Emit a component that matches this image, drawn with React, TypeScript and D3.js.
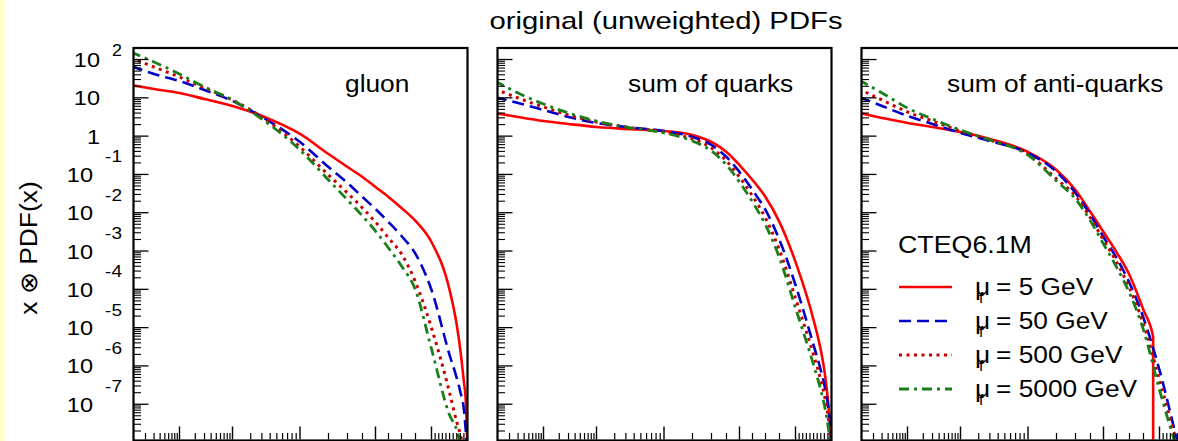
import React from 'react';
import * as d3 from 'd3';

// ---------- data ----------
const SCALES = ['5 GeV', '50 GeV', '500 GeV', '5000 GeV'];
const PANEL_TITLES = ['gluon', 'sum of quarks', 'sum of anti-quarks'];

// x grid (momentum fraction) on which values were read
const X_GRID = [1e-4, 3e-4, 1e-3, 3e-3, 1e-2, 0.03, 0.1, 0.2, 0.3, 0.4, 0.5, 0.6, 0.7, 0.8, 0.9, 0.95, 0.97, 0.98, 0.99, 0.995, 0.999];

// gluon
const G_5 = [21.6, 17.0, 13.4, 9.3, 6.1, 3.36, 1.14, 0.341, 0.156, 0.0857, 0.047, 0.0258, 0.0133, 6.1e-3, 1.72e-3, 9.6e-5, 1.17e-5, 2.6e-6, 3.8e-7, 1.3e-7, 1.2e-8];
const G_50 = [67.8, 41.9, 27.5, 16.0, 8.26, 3.16, 0.703, 0.156, 0.0597, 0.0258, 0.0125, 5.7e-3, 2.47e-3, 8.4e-4, 9.6e-5, 1.93e-6, 4.8e-7, 2.1e-7, 7.1e-8, 2.1e-8, 4.7e-9];
const G_500 = [110, 63.8, 35.0, 18.1, 8.77, 3.16, 0.52, 0.0966, 0.0327, 0.0133, 5.7e-3, 2.19e-3, 8.4e-4, 1.55e-4, 9.8e-6, 2.0e-7, 3.4e-8, 1.6e-8, 4.7e-9, 1e-9, 1e-10];
const G_5000 = [157, 86.3, 41.9, 19.2, 8.77, 2.80, 0.435, 0.0716, 0.0215, 8.2e-3, 3.33e-3, 1.2e-3, 4.06e-4, 9.6e-5, 2.77e-6, 5.2e-8, 2.1e-8, 8.7e-9, 1e-9, 1e-10, 1e-11];

// sum of quarks
const Q_5 = [4.02, 3.16, 2.48, 2.07, 1.73, 1.53, 1.36, 1.07, 0.703, 0.385, 0.176, 0.0716, 0.0258, 5.7e-3, 5.2e-4, 1.58e-5, 2.6e-6, 7.8e-7, 1.29e-7, 3.9e-8, 8.7e-9];
const Q_50 = [10.5, 7.33, 4.81, 3.16, 2.20, 1.73, 1.36, 0.948, 0.586, 0.285, 0.116, 0.0392, 0.0118, 1.94e-3, 1.30e-4, 3.5e-6, 7.8e-7, 3.2e-7, 9.5e-8, 3.9e-8, 1.16e-8];
const Q_500 = [17.0, 9.91, 5.77, 3.56, 2.34, 1.73, 1.28, 0.841, 0.49, 0.224, 0.0857, 0.0273, 7.3e-3, 1.06e-3, 5.9e-5, 1.93e-6, 4.3e-7, 1.74e-7, 5.2e-8, 2.1e-8, 6.5e-9];
const Q_5000 = [27.5, 13.4, 6.90, 4.02, 2.48, 1.73, 1.21, 0.746, 0.409, 0.176, 0.0634, 0.0191, 4.79e-3, 6.6e-4, 3.25e-5, 1.06e-6, 2.35e-7, 9.5e-8, 2.87e-8, 1.16e-8, 3e-9];

// sum of anti-quarks (5 GeV set ends at x ~ 0.86)
const A_5 = [4.02, 2.98, 2.20, 1.73, 1.28, 0.841, 0.385, 0.131, 0.0392, 0.0104, 3.14e-3, 9.4e-4, 2.37e-4, 2.88e-5];
const A_5_END_X = [0.86, 0.8601];
const A_5_END_V = [5.7e-6, 1e-14];
const A_50 = [10.5, 6.12, 3.36, 2.07, 1.21, 0.746, 0.363, 0.116, 0.0327, 8.7e-3, 2.32e-3, 6.6e-4, 1.46e-4, 1.78e-5, 7.8e-7, 1.03e-8, 2e-9, 1e-9, 1e-10, 1e-11, 1e-12];
const A_500 = [17.0, 8.77, 4.27, 2.48, 1.36, 0.792, 0.342, 0.076, 0.0273, 7.3e-3, 1.94e-3, 5.2e-4, 1.08e-4, 1.24e-5, 4.3e-7, 8.7e-9, 2e-9, 1e-9, 1e-10, 1e-11, 1e-12];
const A_5000 = [29.2, 13.4, 5.43, 2.80, 1.45, 0.792, 0.321, 0.0675, 0.0228, 6.1e-3, 1.53e-3, 3.83e-4, 8.0e-5, 8.7e-6, 2.35e-7, 6.5e-9, 2e-9, 1e-9, 1e-10, 1e-11, 1e-12];

// axis ticks
const Y_DOMAIN = [1.2e-8, 200];
const Y_MAJOR_EXP = [2, 1, 0, -1, -2, -3, -4, -5, -6, -7];
const X_MAJOR = [1e-3, 1e-2, 0.1, 0.5, 0.9];
const X_MINOR_LIN = [0.2, 0.3, 0.4, 0.6, 0.7, 0.8];
const X_MINOR_HIGH = [0.91, 0.92, 0.93, 0.94, 0.95, 0.96, 0.97, 0.98, 0.99];
// x-axis knots of the (APPLgrid-like) transformed axis
const X_KNOTS = [1e-4, 1e-3, 1e-2, 0.1, 0.2, 0.3, 0.4, 0.5, 0.6, 0.7, 0.8, 0.9, 1];

// ---------- layout / style ----------
const W = 1178, H = 441;
const PANEL_LEFT = [133.5, 497.5, 861.5];
const PANEL_W = 334;
const TOP = 48, BOTTOM = 439.5;
const X_KNOT_PX = [-2.6, 46, 99, 166.5, 195, 214, 229, 242, 255, 268, 282, 298, 334];
const FONT = "'Liberation Sans', Arial, Helvetica, sans-serif";
const STYLES = [
  { color: '#ff0000', dash: null, width: 2.6 },
  { color: '#0000c8', dash: '12,6', width: 2.6 },
  { color: '#c80000', dash: '3,4.5', width: 3 },
  { color: '#1a7f1a', dash: '10,5,3,5', width: 2.8 },
];

const appl = (x: number) => Math.log(1 / x) + 5 * (1 - x);
const xs = d3.scaleLinear().domain(X_KNOTS.map((k) => appl(k))).range(X_KNOT_PX);
const xPos = (x: number) => xs(appl(x));
const ys = d3.scaleLog().domain(Y_DOMAIN).range([BOTTOM, TOP]);

type Pt = [number, number];
const zip = (xsArr: number[], vs: number[]): Pt[] => vs.map((v, i) => [xsArr[i], v] as Pt);

const PANELS: Pt[][][] = [
  [zip(X_GRID, G_5), zip(X_GRID, G_50), zip(X_GRID, G_500), zip(X_GRID, G_5000)],
  [zip(X_GRID, Q_5), zip(X_GRID, Q_50), zip(X_GRID, Q_500), zip(X_GRID, Q_5000)],
  [
    [...zip(X_GRID, A_5), ...zip(A_5_END_X, A_5_END_V)],
    zip(X_GRID, A_50), zip(X_GRID, A_500), zip(X_GRID, A_5000),
  ],
];

const T = ({ x, y, size, anchor = 'start', sx = 1.12, rot = 0, children }: any) => (
  <text
    transform={`translate(${x},${y}) rotate(${rot}) scale(${sx},1)`}
    fontSize={size}
    textAnchor={anchor}
    fontFamily={FONT}
    fill="#000"
  >
    {children}
  </text>
);

function yMinorTicks(): number[] {
  const out: number[] = [];
  for (let e = -9; e <= 2; e++) {
    for (let m = 2; m <= 9; m++) {
      const v = m * Math.pow(10, e);
      if (v >= Y_DOMAIN[0] && v <= Y_DOMAIN[1]) out.push(v);
    }
  }
  return out;
}

function xMinorTicks(): number[] {
  const out: number[] = [];
  for (const e of [-4, -3, -2]) for (let m = 2; m <= 9; m++) out.push(m * Math.pow(10, e));
  return [...out, ...X_MINOR_LIN, ...X_MINOR_HIGH];
}

const Panel = ({ idx }: { idx: number }) => {
  const left = PANEL_LEFT[idx];
  const line = d3
    .line<Pt>()
    .x((d) => left + xPos(d[0]))
    .y((d) => ys(Math.max(d[1], 1e-12)))
    .curve(d3.curveMonotoneX);
  const yMinor = yMinorTicks();
  const xMinor = xMinorTicks();
  return (
    <g>
      <defs>
        <clipPath id={`clip${idx}`}>
          <rect x={left} y={TOP} width={PANEL_W} height={BOTTOM - TOP} />
        </clipPath>
      </defs>
      <g clipPath={`url(#clip${idx})`}>
        {PANELS[idx].map((s, i) => (
          <path
            key={i}
            d={line(s) || ''}
            fill="none"
            stroke={STYLES[i].color}
            strokeWidth={STYLES[i].width}
            strokeDasharray={STYLES[i].dash || undefined}
          />
        ))}
      </g>
      {Y_MAJOR_EXP.map((e) => (
        <line key={'ym' + e} x1={left} x2={left + 15} y1={ys(Math.pow(10, e))} y2={ys(Math.pow(10, e))} stroke="#000" strokeWidth={1.3} />
      ))}
      {yMinor.map((v, i) => (
        <line key={'yn' + i} x1={left} x2={left + 7.5} y1={ys(v)} y2={ys(v)} stroke="#000" strokeWidth={1.1} />
      ))}
      {X_MAJOR.map((v, i) => (
        <line key={'xm' + i} x1={left + xPos(v)} x2={left + xPos(v)} y1={BOTTOM} y2={BOTTOM - 13} stroke="#000" strokeWidth={1.4} />
      ))}
      {xMinor.map((v, i) => {
        const px = xPos(v);
        if (px <= 0 || px >= PANEL_W) return null;
        return <line key={'xn' + i} x1={left + px} x2={left + px} y1={BOTTOM} y2={BOTTOM - 6.5} stroke="#000" strokeWidth={1.2} />;
      })}
      <rect x={left} y={TOP} width={PANEL_W} height={BOTTOM - TOP + 1} fill="none" stroke="#000" strokeWidth={2.2} />
    </g>
  );
};

const LABEL_POS = [
  { x: 345, y: 92 },
  { x: 628, y: 92 },
  { x: 947, y: 92 },
];

export default function App() {
  return (
    <div style={{ position: 'fixed', left: 0, top: 0, width: W, height: H, background: '#fff' }}>
      <svg width={W} height={H} style={{ display: 'block' }}>
        <rect x={0} y={0} width={W} height={H} fill="#ffffff" />
        <rect x={0} y={0} width={5} height={H} fill="#ffffcc" />
        {[0, 1, 2].map((i) => (
          <Panel key={i} idx={i} />
        ))}
        {Y_MAJOR_EXP.map((e) => {
          const y = ys(Math.pow(10, e));
          if (e === 1) return <T key={e} x={100} y={y + 7.5} size={21} anchor="end">10</T>;
          if (e === 0) return <T key={e} x={100} y={y + 7.5} size={21} anchor="end">1</T>;
          if (e > 0)
            return (
              <g key={e}>
                <T x={100} y={y + 7.5} size={21} anchor="end">10</T>
                <T x={122} y={y - 4} size={16} anchor="end">{String(e)}</T>
              </g>
            );
          return (
            <g key={e}>
              <T x={93} y={y + 7.5} size={21} anchor="end">10</T>
              <T x={122} y={y - 12} size={17} anchor="end">{'-' + Math.abs(e)}</T>
            </g>
          );
        })}
        <T x={37} y={248} size={24} anchor="middle" rot={-90} sx={1.1}>x ⊗ PDF(x)</T>
        <T x={666} y={29} size={24} anchor="middle" sx={1.22}>original (unweighted) PDFs</T>
        {PANEL_TITLES.map((t, i) => (
          <T key={t} x={LABEL_POS[i].x} y={LABEL_POS[i].y} size={23.5} sx={1.12}>{t}</T>
        ))}
        <T x={898} y={253} size={23.5} sx={1.14}>CTEQ6.1M</T>
        {SCALES.map((s, i) => {
          const ly = 287 + i * 34;
          return (
            <g key={s}>
              <line x1={899} x2={952} y1={ly} y2={ly} stroke={STYLES[i].color} strokeWidth={STYLES[i].width} strokeDasharray={STYLES[i].dash || undefined} />
              <T x={975} y={ly + 8} size={23.5} sx={1.12}>μ</T>
              <T x={979} y={ly + 16} size={14} sx={1.12}>f</T>
              <T x={996} y={ly + 8} size={23.5} sx={1.12}>{'= ' + s}</T>
            </g>
          );
        })}
      </svg>
    </div>
  );
}
